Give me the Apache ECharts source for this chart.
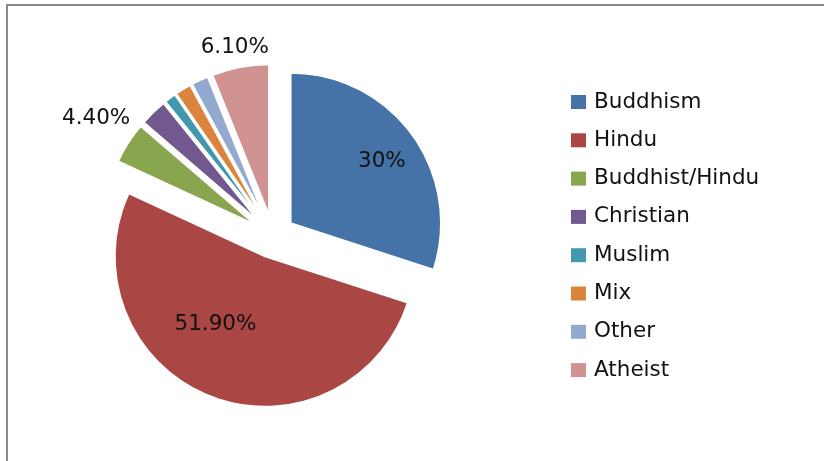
<!DOCTYPE html>
<html><head><meta charset="utf-8">
<script src="https://cdn.jsdelivr.net/npm/echarts@6/dist/echarts.min.js"></script>
<style>html,body{margin:0;padding:0;background:#fff}#c{width:824px;height:461px}</style>
</head><body><div id="c"></div>
<script>
const categories = ['Buddhism','Hindu','Buddhist/Hindu','Christian','Muslim','Mix','Other','Atheist'];
const values = [30, 51.9, 4.4, 2.9, 1.2, 1.7, 1.8, 6.1];
const labelTexts = ['30%','51.90%','4.40%','','','','','6.10%'];

const colors = ['#4572A7','#AA4643','#89A54E','#71588F','#4198AF','#DB843D','#93A9CF','#D19392'];
const labelPositions = ['inside','inside','outside','inside','inside','inside','inside','outside'];
const labelShift = [[28,-16],[-21,-5],[17,-18],[0,0],[0,0],[0,0],[0,0],[36,-8]];

const FONT = 'DejaVu Sans';
const chart = echarts.init(document.getElementById('c'), null, {renderer:'canvas'});
const data = categories.map((name, i) => ({
  name, value: values[i], selected: true,
  itemStyle: {color: colors[i]},
  label: {show: labelTexts[i] !== '', position: labelPositions[i], formatter: labelTexts[i]},
  labelLine: {show: false, length: 12, length2: 0}
}));
chart.setOption({
  animation: false,
  color: colors,
  graphic: [{type:'polyline', shape:{points:[[7,461],[7,5],[824,5]]}, style:{stroke:'#8a8a8a', lineWidth:2, fill:null}, silent:true}],
  legend: {
    orient: 'vertical', left: 566, top: 86, padding: 5,
    itemWidth: 15, itemHeight: 14, itemGap: 16.3,
    icon: 'path://M0,0L15,0L15,14L0,14Z',
    itemStyle: {borderWidth: 0},
    textStyle: {fontFamily: FONT, fontSize: 21.5, color: '#111', lineHeight: 22, padding: [0,0,0,3]},
    data: categories
  },
  series: [{
    type: 'pie',
    center: [273, 236],
    radius: [0, 150],
    startAngle: 90,
    clockwise: true,
    selectedMode: 'multiple',
    selectedOffset: 22,
    itemStyle: {borderColor: '#fff', borderWidth: 1.5},
    label: {fontFamily: FONT, fontSize: 21.5, color: '#111'},
    labelLayout: function (p) { const s = labelShift[p.dataIndex]; return {dx: s[0], dy: s[1]}; },
    emphasis: {disabled: true},
    data
  }]
});
</script></body></html>
